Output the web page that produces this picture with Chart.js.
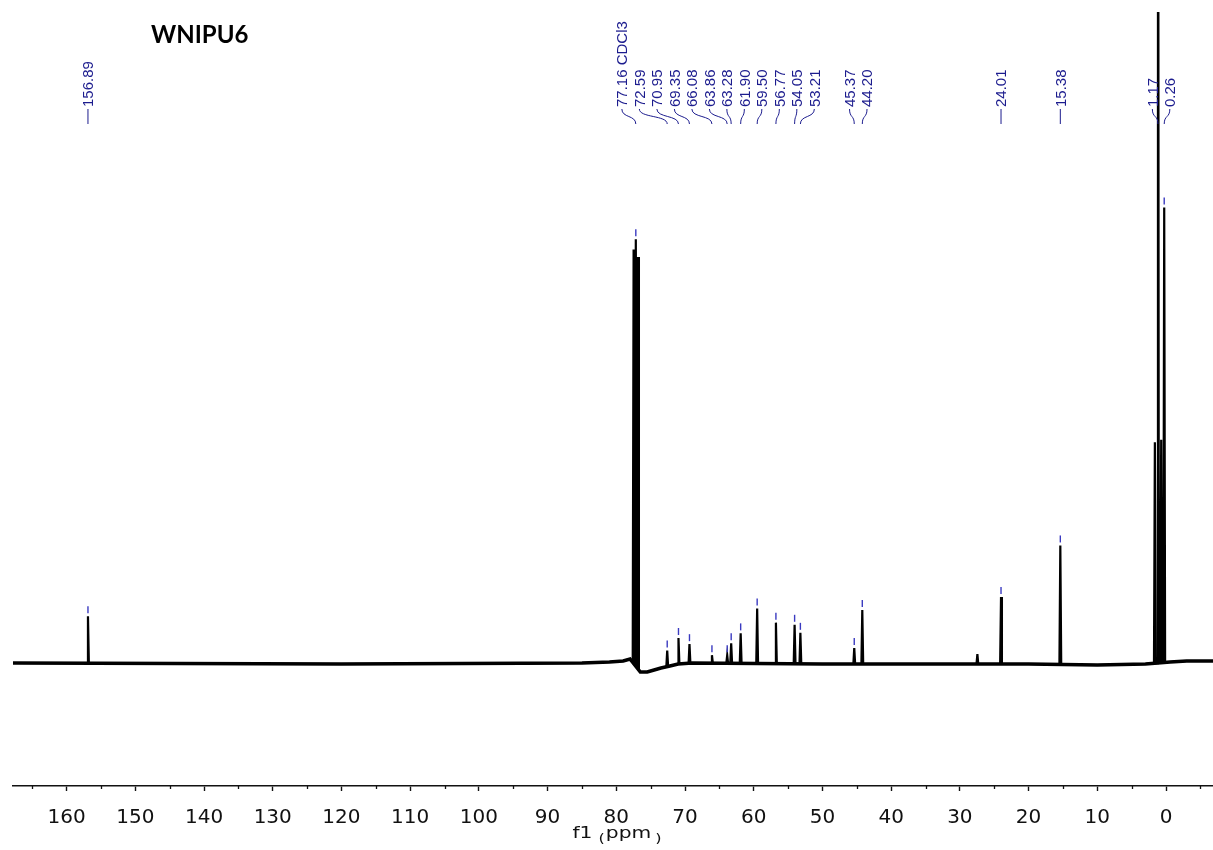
<!DOCTYPE html>
<html><head><meta charset="utf-8">
<script src="https://cdn.jsdelivr.net/npm/chart.js@4.4.1/dist/chart.umd.min.js"></script>
<style>html,body{margin:0;padding:0;background:#fff;} canvas{display:block;}</style>
</head><body>
<canvas id="c" width="1213" height="850"></canvas>
<script>
// ---------- data ----------
const TITLE = 'WNIPU6';
const X_TITLE = ['f1', '(', 'ppm', ')'];
const X_MIN = -6.84, X_MAX = 167.8;
const Y_MIN = -123, Y_MAX = 651;
const MAJOR_TICKS = [160, 150, 140, 130, 120, 110, 100, 90, 80, 70, 60, 50, 40, 30, 20, 10, 0];
const MINOR_TICKS = [165, 155, 145, 135, 125, 115, 105, 95, 85, 75, 65, 55, 45, 35, 25, 15, 5, -5];

// peaks: chemical shift (ppm) and height above the local baseline (arb. units)
const PEAK_PPM    = [156.89, 77.48, 77.16, 76.84, 72.59, 70.95, 69.35, 66.08, 63.86, 63.28, 61.90, 59.50, 56.77, 54.05, 53.21, 45.37, 44.20, 27.45, 24.01, 15.38, 1.62, 1.17, 0.70, 0.26];
const PEAK_HEIGHT = [47,     414,   427,   412,   16,    26,    19,    8,     8,     20,    30,    55,    41,    39,    31,    16,    54,    10,    67,    119,   221,  1200, 223,  455];

// baseline drift
const BASE_PPM = [167.8, 120, 85, 81, 79, 78, 76.5, 75.5, 74.5, 73.5, 72.2, 71, 69, 50, 40, 20, 10, 3, -0.6, -3, -6.84];
const BASE_VAL = [0,     -1,  0,  1,  2,  4,  -9,   -9,   -7,   -5,   -3,   -1,  0, -1, -1, -1, -2, -1, 1,    2,  2];

// peak labels
const LABEL_PPM  = [156.89, 77.16, 72.59, 70.95, 69.35, 66.08, 63.86, 63.28, 61.90, 59.50, 56.77, 54.05, 53.21, 45.37, 44.20, 24.01, 15.38, 1.17, 0.26];
const LABEL_TEXT = ['156.89', '77.16 CDCl3', '72.59', '70.95', '69.35', '66.08', '63.86', '63.28', '61.90', '59.50', '56.77', '54.05', '53.21', '45.37', '44.20', '24.01', '15.38', '1.17', '0.26'];

// ---------- build trace table ----------
function baseAt(p) {
  for (let i = 0; i < BASE_PPM.length - 1; i++) {
    const a = BASE_PPM[i], b = BASE_PPM[i + 1];
    if (p <= a && p >= b) {
      const t = (a - p) / (a - b);
      return BASE_VAL[i] + t * (BASE_VAL[i + 1] - BASE_VAL[i]);
    }
  }
  return 0;
}
const HALF = 0.13;
const trace = BASE_PPM.map((p, i) => ({x: p, y: BASE_VAL[i]}));
PEAK_PPM.forEach((p, i) => {
  trace.push({x: p + HALF, y: baseAt(p + HALF)});
  trace.push({x: p, y: baseAt(p) + PEAK_HEIGHT[i]});
  trace.push({x: p - HALF, y: baseAt(p - HALF)});
});
trace.sort((a, b) => b.x - a.x);
const baseline = BASE_PPM.map((p, i) => ({x: p, y: BASE_VAL[i]}));

const LABEL_COLOR = '#1c1c8e';
const MARK_COLOR = '#3a3ac0';

// ---------- plugins ----------
const decorPlugin = {
  id: 'decor',
  afterDraw(chart) {
    const ctx = chart.ctx, xs = chart.scales.x, ys = chart.scales.y, area = chart.chartArea;
    ctx.save();

    // minor ticks
    ctx.strokeStyle = '#111'; ctx.lineWidth = 1.3;
    MINOR_TICKS.forEach(v => {
      const x = Math.round(xs.getPixelForValue(v)) + 0.5;
      ctx.beginPath(); ctx.moveTo(x, xs.top); ctx.lineTo(x, xs.top + 3); ctx.stroke();
    });

    // axis title (stretched font, small parentheses)
    const sx = 1.35;
    ctx.fillStyle = '#111';
    ctx.textBaseline = 'alphabetic'; ctx.textAlign = 'left';
    const big = '15px "DejaVu Sans"', small = '12px "DejaVu Sans"';
    ctx.font = big;
    const w0 = ctx.measureText(X_TITLE[0]).width * sx;
    const w2 = ctx.measureText(X_TITLE[2]).width * sx;
    ctx.font = small;
    const w1 = ctx.measureText(X_TITLE[1]).width * sx;
    const w3 = ctx.measureText(X_TITLE[3]).width * sx;
    const total = w0 + 6 + w1 + 1 + w2 + 4 + w3;
    let x = (area.left + area.right) / 2 + 4 - total / 2;
    const baseY = 838;
    const put = (t, f, xx, yy) => { ctx.save(); ctx.font = f; ctx.translate(xx, yy); ctx.scale(sx, 1); ctx.fillText(t, 0, 0); ctx.restore(); };
    put(X_TITLE[0], big, x, baseY); x += w0 + 6;
    put(X_TITLE[1], small, x, baseY + 5); x += w1 + 1;
    put(X_TITLE[2], big, x, baseY); x += w2 + 4;
    put(X_TITLE[3], small, x, baseY + 5);

    // chart title
    ctx.font = 'bold 24px Lato';
    ctx.fillStyle = '#000';
    ctx.fillText(TITLE, 151, 43);

    // peak markers
    ctx.strokeStyle = MARK_COLOR; ctx.lineWidth = 1.4;
    LABEL_PPM.forEach(p => {
      const k = PEAK_PPM.indexOf(p);
      if (k < 0) return;
      const y = ys.getPixelForValue(baseAt(p) + PEAK_HEIGHT[k]);
      if (y - 10 < area.top) return;
      const px = xs.getPixelForValue(p);
      ctx.beginPath(); ctx.moveTo(px, y - 10); ctx.lineTo(px, y - 3); ctx.stroke();
    });

    // peak labels with spreading
    const GAP = 17.5;
    const items = LABEL_PPM.map((p, i) => ({px: xs.getPixelForValue(p), text: LABEL_TEXT[i]}));
    items.sort((a, b) => a.px - b.px);
    const place = g => {
      const lo = g.m[0].px, hi = g.m[g.m.length - 1].px;
      const start = (lo + hi) / 2 - GAP * (g.m.length - 1) / 2;
      g.m.forEach((it, k) => it.lx = start + k * GAP);
      g.l = start; g.r = start + GAP * (g.m.length - 1);
    };
    const groups = items.map(it => ({m: [it]}));
    groups.forEach(place);
    let merged = true;
    while (merged) {
      merged = false;
      for (let i = 0; i < groups.length - 1; i++) {
        if (groups[i + 1].l - groups[i].r < GAP - 0.01) {
          groups[i].m = groups[i].m.concat(groups[i + 1].m);
          groups.splice(i + 1, 1);
          place(groups[i]);
          merged = true; break;
        }
      }
    }
    const TXT_BOTTOM = 107, LINE_TOP = 109, LINE_BOT = 124;
    ctx.fillStyle = LABEL_COLOR; ctx.strokeStyle = LABEL_COLOR; ctx.lineWidth = 1;
    ctx.font = '15px "Liberation Sans", Arial';
    items.forEach(it => {
      ctx.save();
      ctx.translate(it.lx, TXT_BOTTOM);
      ctx.rotate(-Math.PI / 2);
      ctx.textBaseline = 'alphabetic'; ctx.textAlign = 'left';
      ctx.fillText(it.text, 0, 5.4);
      ctx.restore();
      ctx.beginPath();
      if (Math.abs(it.lx - it.px) < 0.8) {
        ctx.moveTo(it.px, LINE_TOP); ctx.lineTo(it.px, LINE_BOT);
      } else {
        ctx.moveTo(it.lx, LINE_TOP);
        ctx.bezierCurveTo(it.lx, 118, it.px, 115, it.px, LINE_BOT);
      }
      ctx.stroke();
    });
    ctx.restore();
  }
};

// ---------- chart ----------
Chart.defaults.font.family = '"DejaVu Sans"';
new Chart(document.getElementById('c'), {
  type: 'line',
  data: {
    datasets: [{
      data: trace,
      borderColor: '#000',
      borderWidth: 2.2,
      pointRadius: 0,
      tension: 0,
      fill: false,
      order: 0
    }, {
      data: baseline,
      borderColor: '#000',
      borderWidth: 3.6,
      pointRadius: 0,
      tension: 0,
      fill: false,
      order: 1
    }]
  },
  options: {
    responsive: false,
    animation: false,
    events: [],
    layout: {padding: {left: 13, right: 0, top: 12, bottom: 0}},
    plugins: {legend: {display: false}, tooltip: {enabled: false}},
    scales: {
      x: {
        type: 'linear',
        reverse: true,
        min: X_MIN, max: X_MAX,
        afterBuildTicks: s => { s.ticks = MAJOR_TICKS.map(v => ({value: v})); },
        afterFit: s => { s.height = 64; },
        ticks: {
          autoSkip: false, maxRotation: 0, minRotation: 0,
          padding: 15,
          color: '#111',
          font: {family: '"DejaVu Sans"', size: 20},
          callback: v => String(v)
        },
        grid: {drawOnChartArea: false, drawTicks: true, tickLength: 5, tickWidth: 1.4, tickColor: '#111'},
        border: {display: true, color: '#111', width: 1.6}
      },
      y: {display: false, min: Y_MIN, max: Y_MAX}
    }
  },
  plugins: [decorPlugin]
});
</script>
</body></html>
